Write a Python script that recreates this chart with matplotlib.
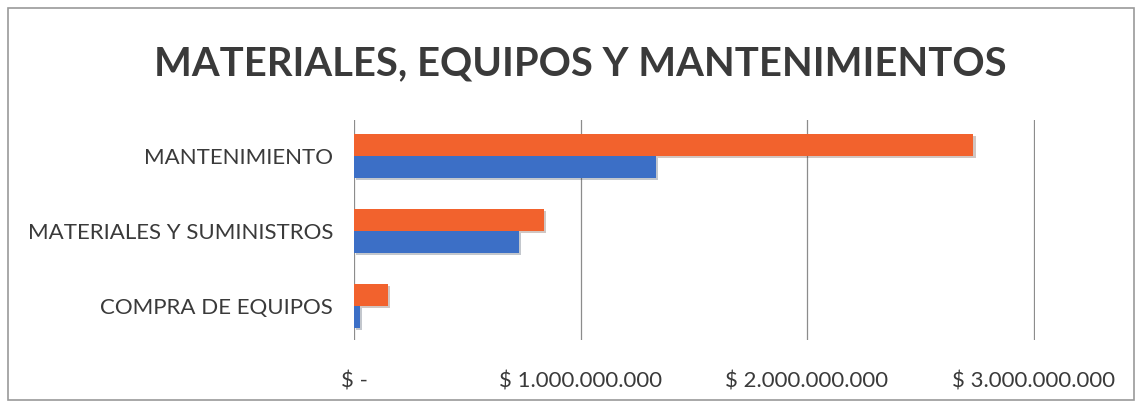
import numpy as np
import matplotlib
matplotlib.use("Agg")
import matplotlib.pyplot as plt
import matplotlib.patheffects as pe
from matplotlib.patches import Rectangle
from matplotlib.ticker import FuncFormatter

# Data (pesos)
categories = ["COMPRA DE EQUIPOS", "MATERIALES Y SUMINISTROS", "MANTENIMIENTO"]
orange_vals = [0.15e9, 0.84e9, 2.735e9]
blue_vals = [0.026e9, 0.727e9, 1.333e9]
x_ticks = [0, 1e9, 2e9, 3e9]

plt.rcParams["font.family"] = ["Lato", "DejaVu Sans"]

fig = plt.figure(figsize=(11.42, 4.08), dpi=100)
fig.patch.set_facecolor("white")

# outer border of the chart
fig.add_artist(Rectangle((0.007, 0.02), 0.986, 0.96, transform=fig.transFigure,
                         fill=False, edgecolor="#9a9a9a", linewidth=1.2))

ax = fig.add_axes([0.31, 0.167, 0.596, 0.539])

y = np.arange(len(categories))
h = 0.29
shadow = [pe.SimplePatchShadow(offset=(1.5, -1.5), alpha=0.25), pe.Normal()]

ax.barh(y + h / 2, orange_vals, height=h, color="#F2622D", zorder=3,
        path_effects=shadow)
ax.barh(y - h / 2, blue_vals, height=h, color="#3C6FC6", zorder=3,
        path_effects=shadow)

ax.set_xlim(0, 3.005e9)
ax.set_ylim(-0.45, 2.48)
ax.set_xticks(x_ticks)


def peso(v, pos):
    if v == 0:
        return "$ -"
    return "$ " + f"{v:,.0f}".replace(",", ".")


ax.xaxis.set_major_formatter(FuncFormatter(peso))
ax.set_yticks(y)
ax.set_yticklabels(categories)

ax.grid(axis="x", color="#8c8c8c", linewidth=0.9, zorder=0)
for s in ax.spines.values():
    s.set_visible(False)
ax.tick_params(axis="both", length=0, labelsize=16, colors="#3a3a3a")
ax.tick_params(axis="x", pad=23)
ax.tick_params(axis="y", pad=15)

fig.text(0.508, 0.843, "MATERIALES, EQUIPOS Y MANTENIMIENTOS", ha="center", va="center",
         fontsize=28.8, fontweight="bold", color="#3a3a3a")

fig.savefig("out.png", dpi=100)
